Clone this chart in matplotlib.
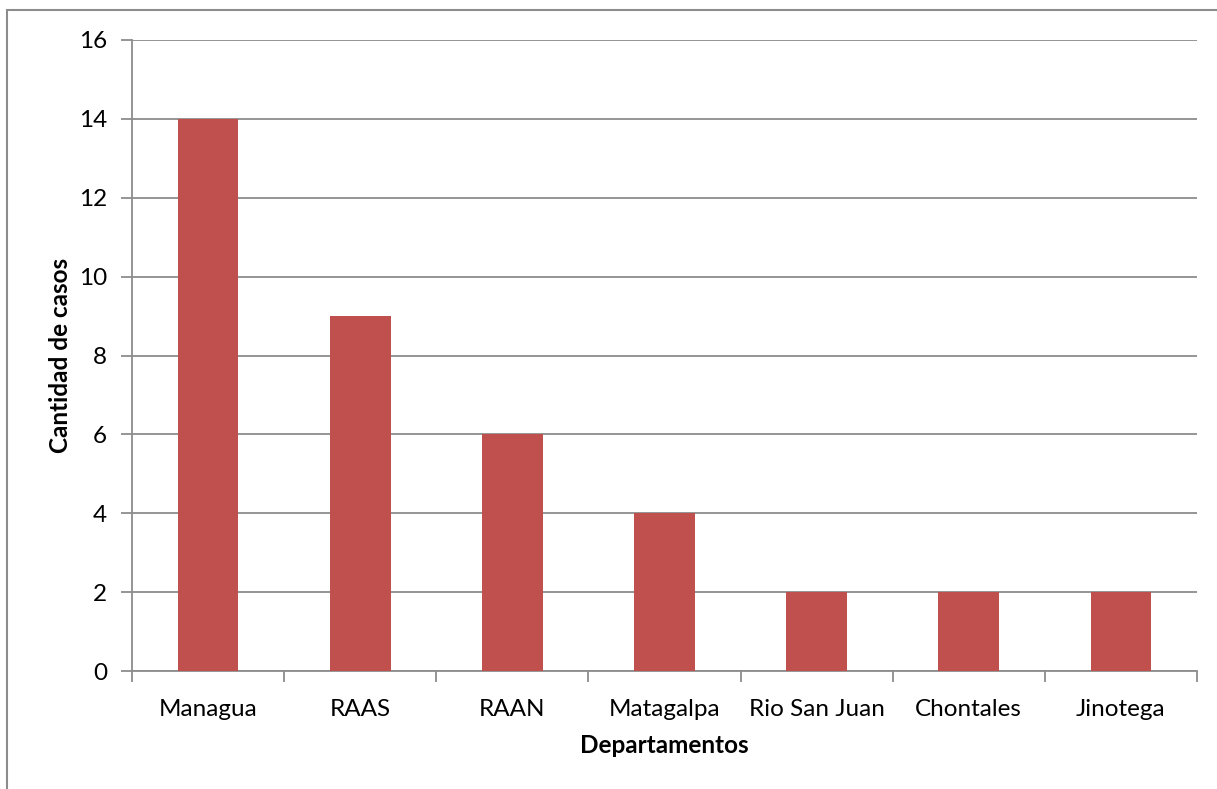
import matplotlib.pyplot as plt
from matplotlib.patches import Rectangle

plt.rcParams['font.family'] = ['Lato', 'DejaVu Sans']

departamentos = ['Managua', 'RAAS', 'RAAN', 'Matagalpa', 'Rio San Juan', 'Chontales', 'Jinotega']
casos = [14, 9, 6, 4, 2, 2, 2]
y_ticks = [0, 2, 4, 6, 8, 10, 12, 14, 16]

W, H = 1217, 789
fig = plt.figure(figsize=(W / 100, H / 100), dpi=100)
ax = fig.add_axes([132 / W, 1 - 671 / H, (1197 - 132) / W, (671 - 40) / H])

grid_col = '#8c8c8c'
fs = 17.5
x = range(len(departamentos))
ax.bar(x, casos, width=0.4, color='#C0504D', zorder=3)

ax.set_xlim(-0.5, len(departamentos) - 0.5)
ax.set_ylim(0, 16)
ax.set_yticks(y_ticks)
ax.set_yticklabels([str(t) for t in y_ticks], fontsize=fs)
ax.yaxis.grid(True, color=grid_col, linewidth=1.3, zorder=0)

# category labels between boundary ticks
ax.set_xticks([i - 0.5 for i in range(len(departamentos) + 1)])
ax.set_xticklabels([])
ax.set_xticks(list(x), minor=True)
ax.set_xticklabels(departamentos, minor=True, fontsize=fs)
ax.tick_params(axis='x', which='minor', length=0, pad=20)
ax.tick_params(axis='x', which='major', length=8, color=grid_col, width=1.3)
ax.tick_params(axis='y', length=8, color=grid_col, width=1.3, pad=10)

for s in ['top', 'right']:
    ax.spines[s].set_visible(False)
for s in ['left', 'bottom']:
    ax.spines[s].set_color(grid_col)
    ax.spines[s].set_linewidth(1.3)

ax.set_xlabel('Departamentos', fontsize=fs, fontweight='bold', labelpad=10)
ax.set_ylabel('Cantidad de casos', fontsize=fs, fontweight='bold', labelpad=5)

# chart area border
fig.patches.append(Rectangle((7 / W, -0.1), 1.2, 1 - 10 / H + 0.1,
                             transform=fig.transFigure, fill=False,
                             edgecolor='#8c8c8c', linewidth=1.5))

fig.savefig('out.png', dpi=100)
